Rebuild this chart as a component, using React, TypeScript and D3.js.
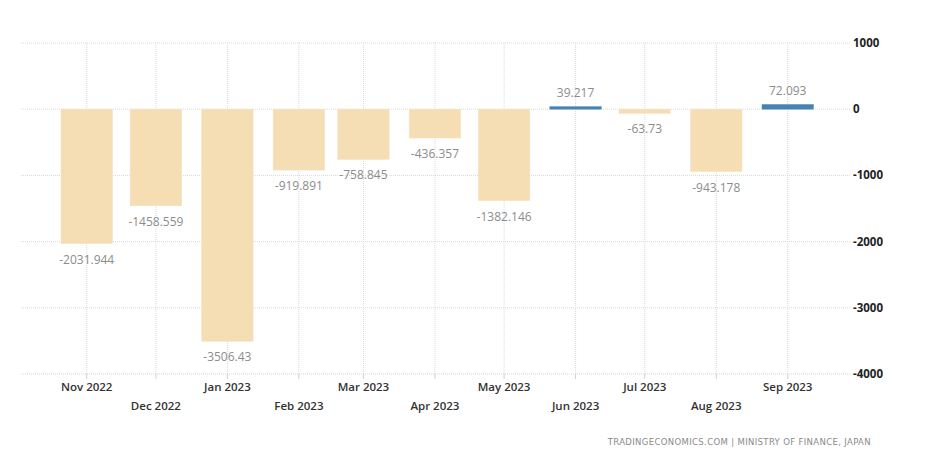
import React from "react";
import * as d3 from "d3";

const months = ["2022-11-01","2022-12-01","2023-01-01","2023-02-01","2023-03-01","2023-04-01","2023-05-01","2023-06-01","2023-07-01","2023-08-01","2023-09-01"];
const values = [-2031.944,-1458.559,-3506.43,-919.891,-758.845,-436.357,-1382.146,39.217,-63.73,-943.178,72.093];
const valueLabels = ["-2031.944","-1458.559","-3506.43","-919.891","-758.845","-436.357","-1382.146","39.217","-63.73","-943.178","72.093"];
const yTicks = [1000,0,-1000,-2000,-3000,-4000];

const W = 926, H = 472;
const left = 21, right = 850, top = 43, bottom = 374;
const DAY = 86400000;

export default function App() {
  const dates = months.map(m => new Date(m + "T00:00:00Z"));
  const x = d3.scaleUtc()
    .domain([new Date(dates[0].getTime() - 28.5 * DAY), new Date(dates[dates.length - 1].getTime() + 27 * DAY)])
    .range([left, right]);
  const y = d3.scaleLinear().domain([-4000, 1000]).range([bottom, top]);
  const barW = 51.5;
  const fmt = d3.utcFormat("%b %Y");
  return (
    <svg width={W} height={H} style={{ position: "absolute", left: 0, top: 0, background: "#fff" }}>
      {yTicks.map(t => (
        <line key={"h" + t} x1={left} x2={right} y1={y(t)} y2={y(t)} stroke="#d9d9d9" strokeDasharray="1,1" />
      ))}
      {dates.map((d, i) => (
        <g key={"v" + i}>
          <line x1={x(d)} x2={x(d)} y1={top} y2={bottom} stroke="#d9d9d9" strokeDasharray="1,1" />
          <line x1={x(d)} x2={x(d)} y1={bottom} y2={bottom + 5} stroke="#d0d0d0" />
        </g>
      ))}
      {dates.map((d, i) => {
        const v = values[i];
        const y0 = y(Math.max(0, v));
        const h = Math.abs(y(v) - y(0));
        const pos = v >= 0;
        return (
          <rect key={"b" + i} x={x(d) - barW / 2} y={y0} width={barW} height={Math.max(h, 1)}
            fill={pos ? "#4682B4" : "#F5DEB3"} stroke={pos ? "#5b93c4" : "#f3e3c3"} strokeWidth={0.5} />
        );
      })}
      {dates.map((d, i) => {
        const v = values[i];
        const ty = v >= 0 ? y(v) - 9.5 : y(v) + 20;
        return (
          <text key={"l" + i} x={x(d)} y={ty} textAnchor="middle" fontFamily="'Open Sans', sans-serif"
            fontSize={12} fill="#8c8c8c">{valueLabels[i]}</text>
        );
      })}
      {dates.map((d, i) => (
        <text key={"x" + i} x={x(d)} y={i % 2 === 0 ? 391 : 410} textAnchor="middle"
          fontFamily="'Open Sans', sans-serif" fontSize={11.5} fontWeight={600} fill="#333">{fmt(d)}</text>
      ))}
      {yTicks.map(t => (
        <text key={"y" + t} x={853} y={y(t) + 4} fontFamily="'Open Sans', sans-serif" fontSize={11.5}
          fontWeight={700} fill="#222">{t}</text>
      ))}
      <text x={871} y={445} textAnchor="end" fontFamily="'DejaVu Sans', sans-serif" fontSize={8.5}
        letterSpacing={0.35} fill="#8a8a8a">TRADINGECONOMICS.COM  |  MINISTRY OF FINANCE, JAPAN</text>
    </svg>
  );
}
